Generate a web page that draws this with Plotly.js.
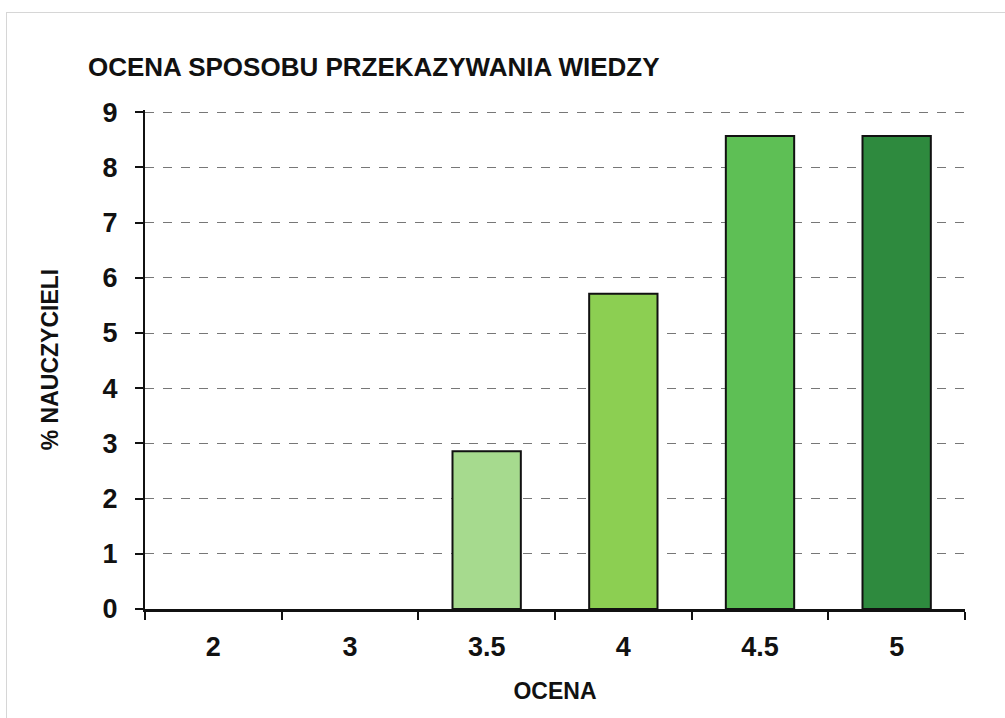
<!DOCTYPE html>
<html><head><meta charset="utf-8">
<script src="https://cdn.plot.ly/plotly-3.0.1.min.js"></script>
<style>
html,body{margin:0;padding:0;background:#fff;}
#frame{position:absolute;left:6px;top:12px;width:1100px;height:800px;border:1px solid #d6d6d6;}
#chart{position:absolute;left:0;top:0;width:1005px;height:718px;}
</style></head>
<body>
<div id="frame"></div>
<div id="chart"></div>
<script>
const categories = ["2", "3", "3.5", "4", "4.5", "5"];
const values = [0, 0, 2.86, 5.71, 8.57, 8.57];
const barColors = ["#a6da8e", "#a6da8e", "#a6da8e", "#8ccf52", "#5ebf55", "#2e8a3e"];
const yTicks = [0, 1, 2, 3, 4, 5, 6, 7, 8, 9];

const font = "Liberation Sans, Arial, sans-serif";
Plotly.newPlot("chart", [{
  type: "bar",
  x: categories,
  y: values,
  marker: {color: barColors, line: {color: "#111", width: values.map(v => v > 0 ? 2 : 0)}},
  hoverinfo: "x+y"
}], {
  width: 1005, height: 718,
  margin: {l: 145, r: 40, t: 110, b: 109},
  paper_bgcolor: "rgba(0,0,0,0)",
  plot_bgcolor: "rgba(0,0,0,0)",
  bargap: 0.5,
  showlegend: false,
  title: {text: "<b>OCENA SPOSOBU PRZEKAZYWANIA WIEDZY</b>", x: 88/1005, xanchor: "left", y: 1 - 67/718, yanchor: "middle",
          font: {family: font, size: 26, color: "#111"}},
  xaxis: {
    type: "category",
    tickson: "boundaries",
    ticks: "outside", ticklen: 8, tickwidth: 2, tickcolor: "#111",
    showline: true, linecolor: "#111", linewidth: 3,
    showgrid: false,
    ticklabelstandoff: 12,
    tickfont: {family: font, size: 27, color: "#111", weight: "bold"},
    title: {text: "<b>OCENA</b>", font: {family: font, size: 23, color: "#111"}, standoff: 22}
  },
  yaxis: {
    range: [0, 9.04],
    tickvals: yTicks,
    ticks: "outside", ticklen: 8, tickwidth: 2, tickcolor: "#111",
    showline: true, linecolor: "#111", linewidth: 2,
    showgrid: true, gridcolor: "#777", griddash: "dash", gridwidth: 1,
    zeroline: false,
    ticklabelstandoff: 12,
    tickfont: {family: font, size: 27, color: "#111", weight: "bold"},
    title: {text: "<b>% NAUCZYCIELI</b>", font: {family: font, size: 23, color: "#111"}, standoff: 38}
  }
}, {displayModeBar: false});
</script>
</body></html>
